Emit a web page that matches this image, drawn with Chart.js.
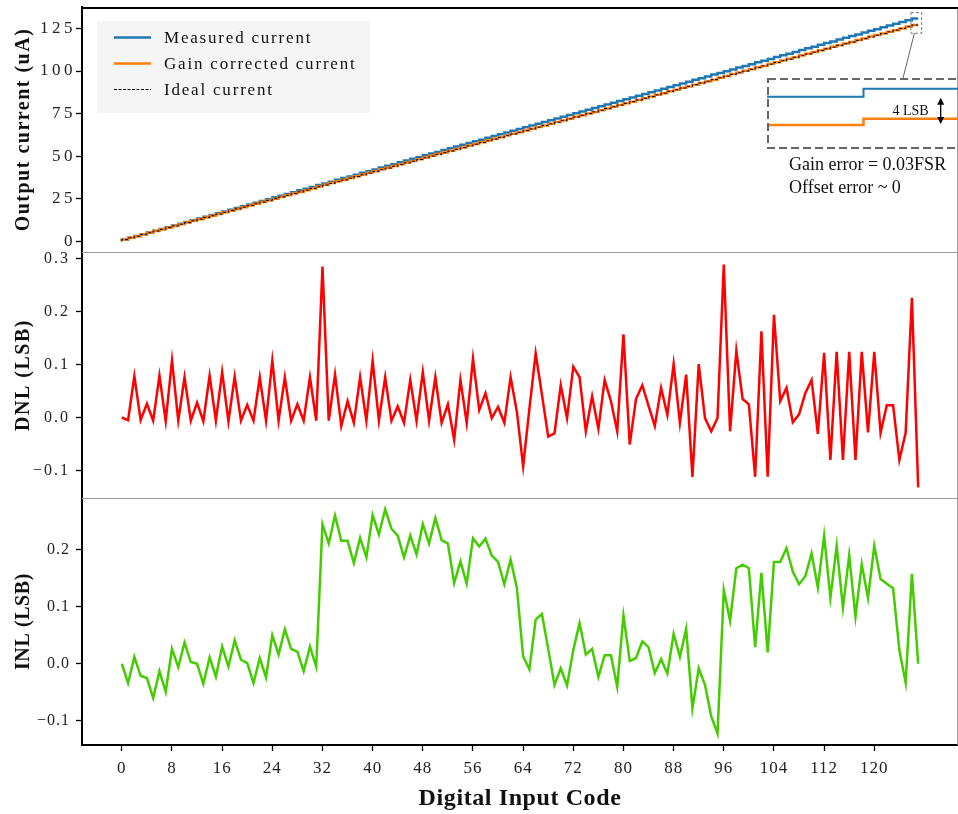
<!DOCTYPE html>
<html><head><meta charset="utf-8">
<script src="https://cdn.jsdelivr.net/npm/chart.js@4.4.1/dist/chart.umd.min.js"></script>
<style>
html,body{margin:0;padding:0;background:#fff;overflow:hidden;}
#wrap{position:relative;width:958px;height:814px;overflow:hidden;background:#fff;}
.box{position:absolute;left:0;}
canvas{display:block;}
</style></head><body>
<div id="wrap">
  <div class="box" style="top:0px"><canvas id="cTop" width="958" height="252" style="width:958px;height:252px"></canvas></div>
  <div class="box" style="top:252px"><canvas id="cDnl" width="958" height="246" style="width:958px;height:246px"></canvas></div>
  <div class="box" style="top:498px"><canvas id="cInl" width="958" height="316" style="width:958px;height:316px"></canvas></div>
  <div class="box" style="left:767px;top:78px"><canvas id="cInset" width="193" height="71" style="width:193px;height:71px"></canvas></div>
</div>
<script>
// ---------------- data ----------------
const codes = [0,1,2,3,4,5,6,7,8,9,10,11,12,13,14,15,16,17,18,19,20,21,22,23,24,25,26,27,28,29,30,31,32,33,34,35,36,37,38,39,40,41,42,43,44,45,46,47,48,49,50,51,52,53,54,55,56,57,58,59,60,61,62,63,64,65,66,67,68,69,70,71,72,73,74,75,76,77,78,79,80,81,82,83,84,85,86,87,88,89,90,91,92,93,94,95,96,97,98,99,100,101,102,103,104,105,106,107,108,109,110,111,112,113,114,115,116,117,118,119,120,121,122,123,124,125,126,127];

const measuredCurrent = [0,1.0,2.1,3.1,4.1,5.2,6.2,7.2,8.2,9.3,10.3,11.3,12.4,13.4,14.4,15.5,16.5,17.5,18.5,19.6,20.6,21.6,22.7,23.7,24.7,25.8,26.8,27.8,28.8,29.9,30.9,31.9,33.0,34.0,35.0,36.1,37.1,38.1,39.1,40.2,41.2,42.2,43.3,44.3,45.3,46.4,47.4,48.4,49.4,50.5,51.5,52.5,53.6,54.6,55.6,56.7,57.7,58.7,59.7,60.8,61.8,62.8,63.9,64.9,65.9,67.0,68.0,69.0,70.0,71.1,72.1,73.1,74.2,75.2,76.2,77.3,78.3,79.3,80.3,81.4,82.4,83.4,84.5,85.5,86.5,87.6,88.6,89.6,90.6,91.7,92.7,93.7,94.8,95.8,96.8,97.9,98.9,99.9,100.9,102.0,103.0,104.0,105.1,106.1,107.1,108.2,109.2,110.2,111.2,112.3,113.3,114.3,115.4,116.4,117.4,118.5,119.5,120.5,121.5,122.6,123.6,124.6,125.7,126.7,127.7,128.8,129.8,130.8];

const correctedCurrent = [0,1,2,3,4,5,6,7,8,9,10,11,12,13,14,15,16,17,18,19,20,21,22,23,24,25,26,27,28,29,30,31,32.2,33.2,34.2,35.2,36.2,37.2,38.2,39.2,40.2,41.2,42.3,43.2,44.2,45.2,46.2,47.2,48.2,49.2,50.3,51.2,52.2,53.1,54.2,55.1,56.2,57.2,58.2,59.2,60.2,61.1,62.2,63.1,64,65,66.1,67.1,68,69,70,71,72,73.1,74,75,76,77,78,79,80.1,81,82,83,84,85,86,87,88.1,89,90.1,90.9,92,93,93.9,94.9,96.1,97.1,98.2,99.2,100.2,101.0,102.2,103.0,104.2,105.2,106.2,107.2,108.1,109.2,110.2,111.1,112.2,113.1,114.2,115.1,116.2,117.1,118.2,119.1,120.2,121.1,122.1,123.1,124.0,125.0,126.2,127.0];

const idealCurrent = [0,1,2,3,4,5,6,7,8,9,10,11,12,13,14,15,16,17,18,19,20,21,22,23,24,25,26,27,28,29,30,31,32,33,34,35,36,37,38,39,40,41,42,43,44,45,46,47,48,49,50,51,52,53,54,55,56,57,58,59,60,61,62,63,64,65,66,67,68,69,70,71,72,73,74,75,76,77,78,79,80,81,82,83,84,85,86,87,88,89,90,91,92,93,94,95,96,97,98,99,100,101,102,103,104,105,106,107,108,109,110,111,112,113,114,115,116,117,118,119,120,121,122,123,124,125,126,127];

const dnl = [0.000,-0.005,0.078,-0.005,0.026,-0.006,0.079,-0.007,0.108,-0.006,0.076,-0.006,0.028,-0.007,0.079,-0.006,
0.086,-0.007,0.077,-0.006,0.024,-0.006,0.076,-0.006,0.107,-0.006,0.076,-0.006,0.025,-0.006,0.076,-0.006,
0.285,-0.006,0.081,-0.016,0.031,-0.010,0.076,-0.006,0.107,-0.006,0.076,-0.006,0.021,-0.010,0.071,-0.006,
0.086,-0.006,0.076,-0.010,0.025,-0.042,0.071,-0.010,0.111,0.014,0.046,-0.001,0.020,-0.010,0.076,0.011,
-0.092,0.017,0.121,0.043,-0.036,-0.030,0.061,-0.001,0.096,0.076,-0.026,0.040,-0.021,0.071,0.031,-0.026,
0.157,-0.051,0.035,0.061,0.022,-0.016,0.056,0.005,0.101,-0.010,0.081,-0.112,0.101,-0.001,-0.026,-0.001,
0.289,-0.026,0.126,0.035,0.025,-0.112,0.163,-0.112,0.194,0.031,0.056,-0.009,0.006,0.046,0.071,-0.031,
0.122,-0.080,0.124,-0.080,0.124,-0.080,0.124,-0.028,0.124,-0.029,0.023,0.023,-0.080,-0.029,0.226,-0.132];

const inl = [0.000,-0.034,0.012,-0.021,-0.025,-0.060,-0.013,-0.049,0.026,-0.006,0.037,0.003,0.000,-0.035,0.011,-0.023,
0.030,-0.005,0.041,0.007,0.001,-0.034,0.010,-0.024,0.050,0.016,0.060,0.026,0.021,-0.013,0.030,-0.005,
0.244,0.210,0.259,0.215,0.215,0.176,0.220,0.186,0.260,0.226,0.270,0.236,0.224,0.186,0.224,0.191,
0.244,0.210,0.255,0.216,0.210,0.141,0.179,0.140,0.219,0.205,0.219,0.189,0.178,0.139,0.182,0.133,
0.013,-0.010,0.077,0.087,0.026,-0.037,-0.008,-0.038,0.024,0.071,0.016,0.026,-0.023,0.015,0.015,-0.040,
0.084,0.005,0.010,0.039,0.029,-0.016,0.008,-0.017,0.052,0.012,0.061,-0.078,-0.008,-0.037,-0.092,-0.122,
0.129,0.075,0.167,0.173,0.167,0.029,0.159,0.020,0.178,0.178,0.202,0.161,0.139,0.153,0.193,0.133,
0.224,0.115,0.206,0.098,0.190,0.082,0.174,0.115,0.206,0.148,0.140,0.132,0.024,-0.033,0.157,0.000];

const currentTicks = [0,25,50,75,100,125];
const dnlTicks = [-0.1,0.0,0.1,0.2,0.3];
const inlTicks = [-0.1,0.0,0.1,0.2];
const codeTicks = [0,8,16,24,32,40,48,56,64,72,80,88,96,104,112,120];

const legendLabels = ['Measured current','Gain corrected current','Ideal current'];
const noteLines = ['Gain error = 0.03FSR','Offset error ~ 0'];
const insetLabel = '4 LSB';
const insetCode = 126;

// ---------------- styling ----------------
const SERIF = "'Liberation Serif','Times New Roman',Times,serif";
const BLUE = '#1f77b4', ORANGE = '#ff7f0e', RED = '#ff0000', GREEN = '#44cc00';
const X_MIN = -6.35, X_MAX = 133.35;
const AXIS_W = 82;

const pts = (ys) => codes.map((c,i)=>({x:c, y:ys[i]}));
const fmt1 = v => (v < 0 ? '\u2212' : '') + Math.abs(v).toFixed(1);

function spacing(tickLS, titleLS){
  return {
    id:'spacing',
    afterLayout(chart){
      Object.values(chart.scales).forEach(s=>{
        if (s._lsWrapped) return; s._lsWrapped = true;
        const dl = s.drawLabels.bind(s), dt = s.drawTitle.bind(s);
        s.drawLabels = function(a){ const c=chart.ctx; c.save(); c.letterSpacing=tickLS; dl(a); c.restore(); };
        s.drawTitle = function(a){ const c=chart.ctx; c.save(); c.letterSpacing=titleLS; dt(a); c.restore(); };
      });
    }
  };
}

function frame(topColor, topWidth){
  return {
    id:'frame',
    afterDraw(chart){
      const {ctx, chartArea:a} = chart;
      ctx.save();
      ctx.strokeStyle = '#999'; ctx.lineWidth = 1;
      ctx.beginPath(); ctx.moveTo(a.right-0.5, a.top); ctx.lineTo(a.right-0.5, a.bottom); ctx.stroke();
      ctx.strokeStyle = topColor; ctx.lineWidth = topWidth;
      ctx.beginPath(); ctx.moveTo(a.left, a.top + topWidth/2); ctx.lineTo(a.right, a.top + topWidth/2); ctx.stroke();
      ctx.restore();
    }
  };
}

function noPad(s){ s.paddingTop = 0; s.paddingBottom = 0; s.paddingLeft = 0; s.paddingRight = 0; }

function yScale(ticksArr, min, max, title, fmt, tickPad, fontSize){
  return {
    type:'linear', position:'left', min, max,
    afterFit(s){ s.width = AXIS_W; noPad(s); },
    afterBuildTicks(s){ s.ticks = ticksArr.map(v=>({value:v})); },
    grid:{display:true, drawOnChartArea:false, drawTicks:true, tickLength:6, tickColor:'#000', tickWidth:1.3},
    border:{display:true, color:'#000', width:2},
    ticks:{color:'#222', font:{family:SERIF, size:fontSize}, padding:tickPad, callback:fmt},
    title:{display:true, text:title, color:'#111', font:{family:SERIF, size:20, weight:'bold'}, padding:{top:12,bottom:0}}
  };
}

function hiddenX(){
  return {type:'linear', min:X_MIN, max:X_MAX, display:false};
}

const baseOpts = {
  responsive:false, animation:false, events:[],
  plugins:{legend:{display:false}, tooltip:{enabled:false}},
  elements:{point:{radius:0}, line:{tension:0}}
};

// ---------------- top panel ----------------
const zoomWin = {x0:125.85, x1:127.55, y0:122.2, y1:134.3};
const insetBox = {left:767, top:78};

const topDecor = {
  id:'topDecor',
  afterDraw(chart){
    const {ctx, chartArea:a, scales:{x, y}} = chart;
    ctx.save();
    // legend
    const lx = a.left + 15, ly = a.top + 14;
    ctx.fillStyle = 'rgba(244,244,244,0.9)';
    ctx.fillRect(lx, ly, 273, 92);
    const styles = [
      {c:BLUE, w:2.5, d:[]},
      {c:ORANGE, w:2.5, d:[]},
      {c:'#000', w:1, d:[3,1.5]}
    ];
    ctx.font = '17px ' + SERIF;
    ctx.textBaseline = 'middle';
    ctx.letterSpacing = '1.8px';
    legendLabels.forEach((t,i)=>{
      const yy = ly + 16.5 + i*26;
      ctx.strokeStyle = styles[i].c; ctx.lineWidth = styles[i].w; ctx.setLineDash(styles[i].d);
      ctx.beginPath(); ctx.moveTo(lx+17, yy); ctx.lineTo(lx+54, yy); ctx.stroke();
      ctx.setLineDash([]);
      ctx.fillStyle = '#111';
      ctx.fillText(t, lx+67, yy+1);
    });
    ctx.letterSpacing = '0px';
    // zoom window rectangle
    const rx0 = x.getPixelForValue(zoomWin.x0), rx1 = x.getPixelForValue(zoomWin.x1);
    const ry0 = y.getPixelForValue(zoomWin.y1), ry1 = y.getPixelForValue(zoomWin.y0);
    ctx.strokeStyle = '#777'; ctx.lineWidth = 1; ctx.setLineDash([3,2]);
    ctx.strokeRect(rx0, ry0, rx1-rx0, ry1-ry0);
    ctx.setLineDash([]);
    // connector
    ctx.strokeStyle = '#666'; ctx.lineWidth = 1;
    ctx.beginPath(); ctx.moveTo(x.getPixelForValue(126.4), ry1); ctx.lineTo(insetBox.left + 136, insetBox.top); ctx.stroke();
    // notes
    ctx.fillStyle = '#111';
    ctx.font = '18px ' + SERIF;
    ctx.textBaseline = 'middle';
    noteLines.forEach((t,i)=> ctx.fillText(t, insetBox.left + 22, insetBox.top + 87 + i*23.5));
    ctx.restore();
  }
};

new Chart(document.getElementById('cTop'), {
  type:'line',
  data:{datasets:[
    {label:legendLabels[0], data:pts(measuredCurrent), borderColor:BLUE, borderWidth:2.5, stepped:'after', order:2},
    {label:legendLabels[1], data:pts(correctedCurrent), borderColor:ORANGE, borderWidth:2.5, stepped:'after', order:1},
    {label:legendLabels[2], data:pts(idealCurrent), borderColor:'#000', borderWidth:1, borderDash:[3,2], stepped:'after', order:0}
  ]},
  options:Object.assign({}, baseOpts, {
    layout:{padding:{top:7,left:0,right:0,bottom:0}},
    scales:{x:hiddenX(), y:yScale(currentTicks, -6.3, 137.6, 'Output current (uA)', v=>String(v), 0, 17)}
  }),
  plugins:[spacing('3.5px','1.5px'), frame('#000', 2), topDecor]
});

// ---------------- DNL panel ----------------
new Chart(document.getElementById('cDnl'), {
  type:'line',
  data:{datasets:[{label:'DNL', data:pts(dnl), borderColor:RED, borderWidth:2.5}]},
  options:Object.assign({}, baseOpts, {
    layout:{padding:{top:0,left:0,right:0,bottom:0}},
    scales:{x:hiddenX(), y:yScale(dnlTicks, -0.152, 0.3126, 'DNL (LSB)', fmt1, 6, 16)}
  }),
  plugins:[spacing('2px','1.5px'), frame('#999', 1)]
});

// ---------------- INL panel ----------------
new Chart(document.getElementById('cInl'), {
  type:'line',
  data:{datasets:[{label:'INL', data:pts(inl), borderColor:GREEN, borderWidth:2.5}]},
  options:Object.assign({}, baseOpts, {
    layout:{padding:{top:0,left:0,right:0,bottom:0}},
    scales:{
      x:{
        type:'linear', position:'bottom', min:X_MIN, max:X_MAX,
        afterFit(s){ s.height = 69; noPad(s); },
        afterBuildTicks(s){ s.ticks = codeTicks.map(v=>({value:v})); },
        grid:{display:true, drawOnChartArea:false, drawTicks:true, tickLength:6, tickColor:'#000', tickWidth:1.3},
        border:{display:true, color:'#000', width:2},
        ticks:{color:'#222', font:{family:SERIF, size:17}, padding:7, maxRotation:0, autoSkip:false, callback:v=>String(v)},
        title:{display:true, text:'Digital Input Code', color:'#111', font:{family:SERIF, size:24, weight:'bold'}, padding:{top:0,bottom:1}}
      },
      y:yScale(inlTicks, -0.142, 0.2897, 'INL (LSB)', fmt1, 6, 16)
    }
  }),
  plugins:[spacing('1px','0.6px'), frame('#999', 1)]
});

// ---------------- inset (zoom of the last step) ----------------
const insetDecor = {
  id:'insetDecor',
  afterDraw(chart){
    const {ctx, chartArea:a, scales:{x, y}} = chart;
    ctx.save();
    ctx.strokeStyle = '#666'; ctx.lineWidth = 2; ctx.setLineDash([8,4]);
    ctx.strokeRect(a.left+1, a.top+1, a.right - a.left + 10, a.bottom - a.top - 2);
    ctx.setLineDash([]);
    const idx = codes.indexOf(insetCode);
    const ax = x.getPixelForValue(126.4);
    const yTop = y.getPixelForValue(measuredCurrent[idx]);
    const yBot = y.getPixelForValue(correctedCurrent[idx]);
    ctx.strokeStyle = '#000'; ctx.fillStyle = '#000'; ctx.lineWidth = 1.3;
    ctx.beginPath(); ctx.moveTo(ax, yTop+3); ctx.lineTo(ax, yBot-3); ctx.stroke();
    const head = (yy, dir) => { ctx.beginPath(); ctx.moveTo(ax, yy); ctx.lineTo(ax-3.5, yy + dir*7); ctx.lineTo(ax+3.5, yy + dir*7); ctx.closePath(); ctx.fill(); };
    head(yTop+1, 1); head(yBot-1, -1);
    ctx.font = '14px ' + SERIF; ctx.textAlign = 'right'; ctx.textBaseline = 'middle';
    ctx.fillStyle = '#111';
    ctx.fillText(insetLabel, ax - 12, (yTop + yBot)/2 + 1);
    ctx.restore();
  }
};

new Chart(document.getElementById('cInset'), {
  type:'line',
  data:{datasets:[
    {data:pts(measuredCurrent), borderColor:BLUE, borderWidth:2, stepped:'after'},
    {data:pts(correctedCurrent), borderColor:ORANGE, borderWidth:2.5, stepped:'after'}
  ]},
  options:Object.assign({}, baseOpts, {
    layout:{padding:0},
    scales:{
      x:{type:'linear', min:125.5, max:126.5, display:false},
      y:{type:'linear', min:123.14, max:132.17, display:false}
    }
  }),
  plugins:[insetDecor]
});
</script>
</body></html>
